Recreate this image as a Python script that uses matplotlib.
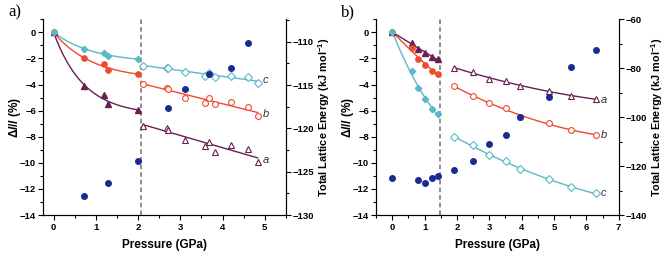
import numpy as np
import matplotlib
matplotlib.use("Agg")
import matplotlib.pyplot as plt
from matplotlib.ticker import MultipleLocator

plt.rcParams['font.family'] = ['Liberation Sans', 'DejaVu Sans']
plt.rcParams['mathtext.fontset'] = 'custom'
plt.rcParams['mathtext.rm'] = 'Liberation Sans:bold'
plt.rcParams['mathtext.bf'] = 'Liberation Sans:bold'
plt.rcParams['mathtext.it'] = 'Liberation Sans:bold:italic'
plt.rcParams['mathtext.sf'] = 'Liberation Sans:bold'

# ---------------- Panel a data ----------------
a_fill_x = [0, 0.73, 1.2, 1.28, 1.99]
a_c_fill = [0, -1.30, -1.56, -1.80, -2.07]
a_b_fill = [0, -1.99, -2.43, -2.91, -3.19]
a_a_fill = [0, -4.10, -4.83, -5.52, -5.95]

a_open_x = [2.11, 2.69, 2.71, 3.10, 3.59, 3.67, 3.82, 4.19, 4.60, 4.83]
a_c_open = [-2.56, -2.71, -2.74, -3.07, -3.32, -3.15, -3.45, -3.32, -3.45, -3.91]
a_b_open = [-3.96, -4.24, -4.34, -5.01, -5.42, -5.01, -5.52, -5.37, -5.70, -6.39]
a_a_open = [-7.18, -7.30, -7.46, -8.25, -8.69, -8.38, -9.20, -8.64, -8.97, -9.96]

a_E_x = [0.73, 1.28, 2.00, 2.71, 3.10, 3.67, 4.19, 4.60]
a_E = [-127.8, -126.3, -123.8, -117.6, -115.5, -113.7, -113.0, -110.2]

# ---------------- Panel b data ----------------
b_fill_x = [0, 0.60, 0.80, 1.02, 1.23, 1.41]
b_a_fill = [0, -0.80, -1.25, -1.56, -1.87, -2.07]
b_b_fill = [0, -1.23, -2.02, -2.48, -2.97, -3.20]
b_c_fill = [0, -2.97, -4.27, -5.11, -5.90, -6.26]

b_open_x = [1.91, 2.51, 2.98, 3.52, 3.95, 4.86, 5.52, 6.30]
b_a_open = [-2.76, -3.02, -3.55, -3.76, -4.09, -4.52, -4.90, -5.10]
b_b_open = [-4.11, -4.90, -5.42, -5.83, -6.46, -6.97, -7.51, -7.85]
b_c_open = [-8.05, -8.66, -9.38, -9.89, -10.47, -11.27, -11.88, -12.34]

b_E_x = [0, 0.80, 1.02, 1.23, 1.40, 1.91, 2.51, 2.98, 3.52, 3.95, 4.86, 5.52, 6.31]
b_E = [-125.0, -125.7, -127.1, -125.0, -124.0, -121.6, -117.8, -110.9, -107.3,
       -99.9, -91.7, -79.6, -72.4]

CYAN = '#5CB8C6'
ORANGE = '#F04A2E'
PURPLE = '#6A1F52'
BLUE = '#1B2B94'
GRAY = '#707070'


def exp_fit(x, y):
    x = np.asarray(x, float); y = np.asarray(y, float)
    best = None
    for k in np.linspace(0.1, 6, 600):
        f = 1 - np.exp(-k * x)
        A = np.dot(f, y) / np.dot(f, f)
        r = np.sum((A * f - y) ** 2)
        if best is None or r < best[0]:
            best = (r, k, A)
    _, k, A = best
    xs = np.linspace(x.min(), x.max(), 100)
    return xs, A * (1 - np.exp(-k * xs))


def poly_fit(x, y, deg):
    p = np.polyfit(x, y, deg)
    xs = np.linspace(min(x), max(x), 100)
    return xs, np.polyval(p, xs)


def style_axes(ax, ax2):
    for a_ in (ax, ax2):
        a_.spines['top'].set_visible(False)
        a_.tick_params(which='both', direction='out', labelsize=6.8, width=0.8, pad=1.5)
        a_.tick_params(which='major', length=3.5)
        a_.tick_params(which='minor', length=2)
        for lab in a_.get_xticklabels() + a_.get_yticklabels():
            lab.set_fontweight('bold')
    ax.tick_params(axis='x', pad=2.5)
    ax.set_xlabel('Pressure (GPa)', fontsize=8.5, fontweight='bold', labelpad=5)
    ax.set_ylabel(r'$\Delta\mathit{l}/\mathit{l}$ (%)', fontsize=8.5, fontweight='bold')
    ax.yaxis.set_label_coords(-0.084, 0.5)
    ax2.set_ylabel(r'Total Lattice Energy (kJ mol$^{-1}$)', fontsize=7.8,
                   fontweight='bold')
    ax2.yaxis.set_label_coords(1.125, 0.5)


fig = plt.figure(figsize=(6.66, 2.60), dpi=100)

ms_f = 3.8
ms_o = 4.2

# ---------------- Panel a ----------------
ax = fig.add_axes([0.0646, 0.173, 0.3648, 0.753])
ax2 = ax.twinx()
ax.set_xlim(-0.25, 5.5)
ax.set_ylim(-14, 1)
ax2.set_ylim(-130, -107.4)
ax.xaxis.set_major_locator(MultipleLocator(1))
ax.xaxis.set_minor_locator(MultipleLocator(0.5))
ax.yaxis.set_major_locator(MultipleLocator(2))
ax.yaxis.set_minor_locator(MultipleLocator(1))
ax2.yaxis.set_major_locator(MultipleLocator(5))
ax2.yaxis.set_minor_locator(MultipleLocator(2.5))

for ys, col, mk in [(a_a_fill, PURPLE, '^'), (a_b_fill, ORANGE, 'o'), (a_c_fill, CYAN, 'D')]:
    xs, fy = exp_fit(a_fill_x, ys)
    ax.plot(xs, fy, color=col, lw=1.0, zorder=2)
    ax.plot(a_fill_x, ys, ls='none', marker=mk, color=col,
            ms=ms_f if mk != 'D' else 3.2, zorder=3)
for ys, col, mk in [(a_a_open, PURPLE, '^'), (a_b_open, ORANGE, 'o'), (a_c_open, CYAN, 'D')]:
    xs, fy = poly_fit(a_open_x, ys, 1)
    ax.plot(xs, fy, color=col, lw=1.0, zorder=2)
    ax.plot(a_open_x, ys, ls='none', marker=mk, mfc='white', mec=col, mew=0.8,
            ms=ms_o if mk != 'D' else 3.6, zorder=3)
ax.axvline(2.08, color=GRAY, ls=(0, (3, 2)), lw=1.1, zorder=1)
ax2.plot(a_E_x, a_E, ls='none', marker='o', color=BLUE, ms=4, zorder=4)
for lbl, yy in [('c', -3.65), ('b', -6.28), ('a', -9.8)]:
    ax.text(4.95, yy, lbl, fontsize=8, style='italic', color='#333333', va='center', ha='left')
style_axes(ax, ax2)
fig.text(0.012, 0.953, 'a)', fontsize=12, family='Liberation Serif', va='center')

# ---------------- Panel b ----------------
bx = fig.add_axes([0.5646, 0.173, 0.3644, 0.753])
bx2 = bx.twinx()
bx.set_xlim(-0.5, 7)
bx.set_ylim(-14, 1)
bx2.set_ylim(-140, -60)
bx.xaxis.set_major_locator(MultipleLocator(1))
bx.xaxis.set_minor_locator(MultipleLocator(0.5))
bx.yaxis.set_major_locator(MultipleLocator(2))
bx.yaxis.set_minor_locator(MultipleLocator(1))
bx2.yaxis.set_major_locator(MultipleLocator(20))
bx2.yaxis.set_minor_locator(MultipleLocator(10))

for ys, col, mk in [(b_a_fill, PURPLE, '^'), (b_b_fill, ORANGE, 'o'), (b_c_fill, CYAN, 'D')]:
    xs, fy = poly_fit(b_fill_x, ys, 2)
    bx.plot(xs, fy, color=col, lw=1.0, zorder=2)
    bx.plot(b_fill_x, ys, ls='none', marker=mk, color=col,
            ms=ms_f if mk != 'D' else 3.2, zorder=3)
for ys, col, mk in [(b_a_open, PURPLE, '^'), (b_b_open, ORANGE, 'o'), (b_c_open, CYAN, 'D')]:
    xs, fy = poly_fit(b_open_x, ys, 2)
    bx.plot(xs, fy, color=col, lw=1.0, zorder=2)
    bx.plot(b_open_x, ys, ls='none', marker=mk, mfc='white', mec=col, mew=0.8,
            ms=ms_o if mk != 'D' else 3.6, zorder=3)
bx.axvline(1.49, color=GRAY, ls=(0, (3, 2)), lw=1.1, zorder=1)
bx2.plot(b_E_x, b_E, ls='none', marker='o', color=BLUE, ms=4, zorder=4)
for lbl, yy in [('a', -5.19), ('b', -7.87), ('c', -12.34)]:
    bx.text(6.45, yy, lbl, fontsize=8, style='italic', color='#333333', va='center', ha='left')
style_axes(bx, bx2)
fig.text(0.512, 0.953, 'b)', fontsize=12, family='Liberation Serif', va='center')

fig.savefig('out.png', dpi=100)
